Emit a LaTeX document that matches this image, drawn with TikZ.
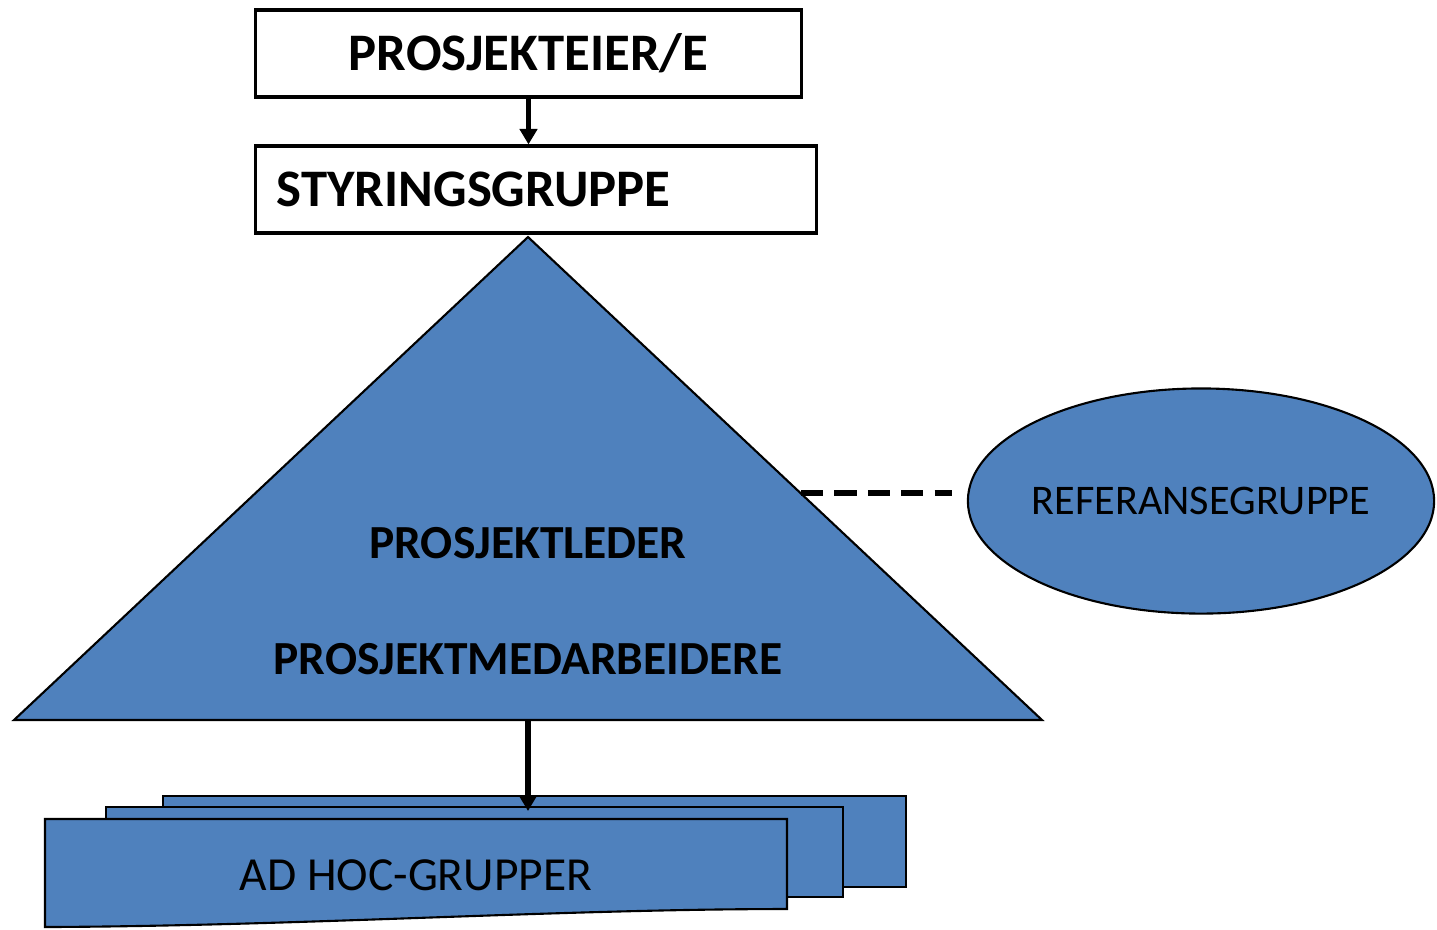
\documentclass[tikz,border=0pt]{standalone}
\usepackage{fontspec}
\setmainfont{Carlito}
\usetikzlibrary{arrows.meta,shapes.geometric}
\definecolor{officeblue}{HTML}{4F81BD}
\tikzset{
  box/.style={draw, line width=0.9pt, minimum height=0.87cm, inner sep=0pt},
  blueshape/.style={fill=officeblue, draw=black, line width=0.6pt},
  link/.style={line width=1.6pt, -{Triangle[length=4.4pt,width=4.9pt]}},
  bigfont/.style={font=\fontsize{15}{18}\selectfont\bfseries},
  midfont/.style={font=\fontsize{13.5}{16}\selectfont\bfseries},
}
\begin{document}
\begin{tikzpicture}[x=0.01cm,y=-0.01cm]
\useasboundingbox (0,0) rectangle (1437,929);

\node[box, bigfont, minimum width=5.45cm] (eier) at (528.5,53.5) {PROSJEKTEIER/E};
\node[box, bigfont, text width=5.18cm, inner xsep=0.21cm, align=left] (styring) at (536,189.5) {STYRINGSGRUPPE};

% triangle
\coordinate (apex) at (528,237);
\coordinate (bl) at (14,720);
\coordinate (br) at (1042,720);
\coordinate (base) at (528,720);
\coordinate (edge) at (801,493);
\path[blueshape] (apex) -- (br) -- (bl) -- cycle;
\node[midfont] (leder) at (528,543) {PROSJEKTLEDER};
\node[midfont] (medarb) at (528,659) {PROSJEKTMEDARBEIDERE};

\node[blueshape, ellipse, minimum width=4.66cm, minimum height=2.25cm, inner sep=0pt] (referanse) at (1201,501) {};
\node[font=\fontsize{12}{14}\selectfont] (refname) at (referanse.center) {REFERANSEGRUPPE};

% ad hoc documents
\path[blueshape] (163,796) rectangle (906,887);
\path[blueshape] (106,807) rectangle (843,897);
\path[blueshape] (45,819) -- (787,819) -- (787,909)
  .. controls (560,909) and (300,926) .. (45,927) -- cycle;
\node[font=\fontsize{13.5}{16}\selectfont] (adhoc) at (416,875) {AD HOC-GRUPPER};
\coordinate (docs) at (528,811);

\path[draw,link] (eier.south) -- (eier.south |- styring.north);
\path[draw,link] (base) -- (docs);
\path[draw,line width=1.6pt,dash pattern=on 6.3pt off 3.2pt] (edge) -- ([xshift=-0.15cm]edge -| referanse.west);
\end{tikzpicture}
\end{document}
